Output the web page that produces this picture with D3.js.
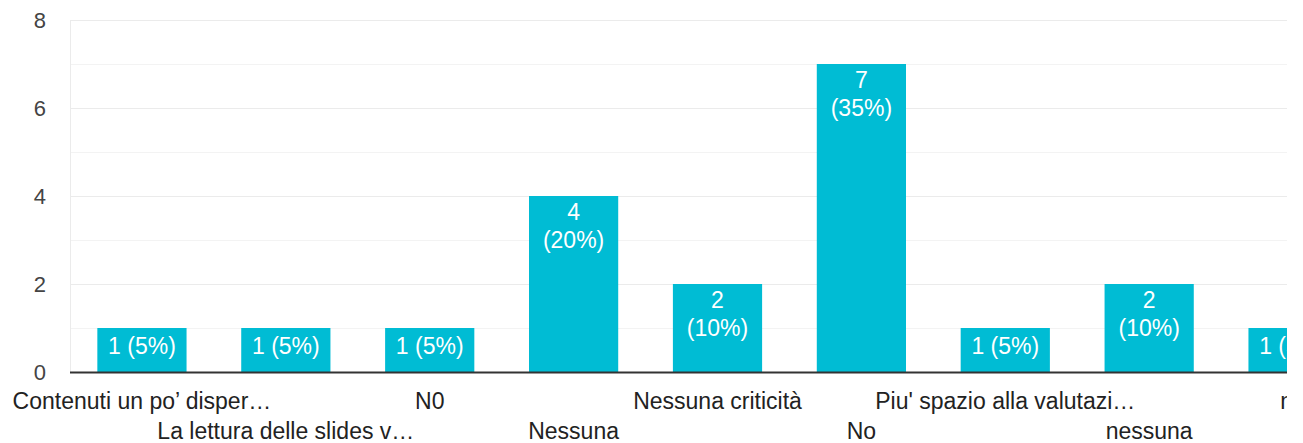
<!DOCTYPE html>
<html>
<head>
<meta charset="utf-8">
<script src="https://cdn.jsdelivr.net/npm/d3@7"></script>
<style>
  html, body { margin: 0; padding: 0; background: #fff; }
  svg { display: block; font-family: "Liberation Sans", Arial, sans-serif; }
</style>
</head>
<body>
<svg id="chart" width="1303" height="443"></svg>
<script>
const categories = [
  "Contenuti un po’ disper…",
  "La lettura delle slides v…",
  "N0",
  "Nessuna",
  "Nessuna criticità",
  "No",
  "Piu' spazio alla valutazi…",
  "nessuna",
  "no"
];
const counts = [1, 1, 1, 4, 2, 7, 1, 2, 1];
const total = 20;
const yTicks = [0, 2, 4, 6, 8];
const yMinor = [1, 3, 5, 7];

(function () {
const svg = d3.select("#chart");
const mLeft = 70, mTop = 20, mBottom = 372, visibleRight = 1287;
const fullRight = 1365;
const FONT = "\"Liberation Sans\", Arial, sans-serif";

const x = d3.scaleBand().domain(categories).range([mLeft, fullRight])
  .paddingInner(0.38).paddingOuter(0.19);
const y = d3.scaleLinear().domain([0, 8]).range([mBottom, mTop]);

svg.append("defs").append("clipPath").attr("id", "clip")
  .append("rect").attr("x", 0).attr("y", 0).attr("width", visibleRight).attr("height", 443);

const g = svg.append("g").attr("clip-path", "url(#clip)");

g.selectAll("line.minor").data(yMinor).enter().append("line")
  .attr("x1", mLeft).attr("x2", fullRight)
  .attr("y1", d => y(d) + 0.5).attr("y2", d => y(d) + 0.5)
  .attr("stroke", "#f3f3f3").attr("stroke-width", 1);
g.selectAll("line.major").data(yTicks.filter(d => d > 0)).enter().append("line")
  .attr("x1", mLeft).attr("x2", fullRight)
  .attr("y1", d => y(d) + 0.5).attr("y2", d => y(d) + 0.5)
  .attr("stroke", "#ebebeb").attr("stroke-width", 1);
g.append("line").attr("x1", mLeft + 0.5).attr("x2", mLeft + 0.5).attr("y1", mTop).attr("y2", mBottom)
  .attr("stroke", "#ebebeb").attr("stroke-width", 1);

g.selectAll("rect.bar").data(categories).enter().append("rect")
  .attr("x", d => x(d)).attr("width", x.bandwidth())
  .attr("y", (d, i) => y(counts[i]))
  .attr("height", (d, i) => mBottom - y(counts[i]))
  .attr("fill", "#00bcd4");

categories.forEach((c, i) => {
  const v = counts[i];
  const pct = "(" + Math.round(v / total * 100) + "%)";
  const cx = x(c) + x.bandwidth() / 2;
  const one = v + " " + pct;
  const t = g.append("text").attr("x", cx).attr("text-anchor", "middle")
    .attr("fill", "#fff").attr("font-size", 23);
  if (one.length <= 6) {
    t.attr("y", y(v) + 26).text(one);
  } else {
    t.attr("y", y(v) + 24).text(String(v));
    g.append("text").attr("x", cx).attr("y", y(v) + 52).attr("text-anchor", "middle")
      .attr("fill", "#fff").attr("font-size", 23).text(pct);
  }
});

g.append("line").attr("x1", mLeft).attr("x2", fullRight)
  .attr("y1", mBottom + 0.5).attr("y2", mBottom + 0.5)
  .attr("stroke", "#333").attr("stroke-width", 2);

const yAxis = d3.axisLeft(y).tickValues(yTicks).tickSize(0).tickPadding(0);
const ya = svg.append("g").attr("transform", "translate(46,0)").call(yAxis);
ya.select(".domain").remove();
ya.selectAll("text").attr("font-size", 22).attr("fill", "#444")
  .attr("font-family", FONT).attr("dy", "0.36em");

const xAxis = d3.axisBottom(x).tickSize(0).tickPadding(0);
const xa = g.append("g").attr("transform", `translate(0,${mBottom})`).call(xAxis);
xa.select(".domain").remove();
xa.selectAll("text").attr("font-size", 23).attr("fill", "#222")
  .attr("font-family", FONT)
  .attr("dy", null)
  .attr("y", (d, i) => i % 2 === 0 ? 37 : 67);
})();
</script>
</body>
</html>
